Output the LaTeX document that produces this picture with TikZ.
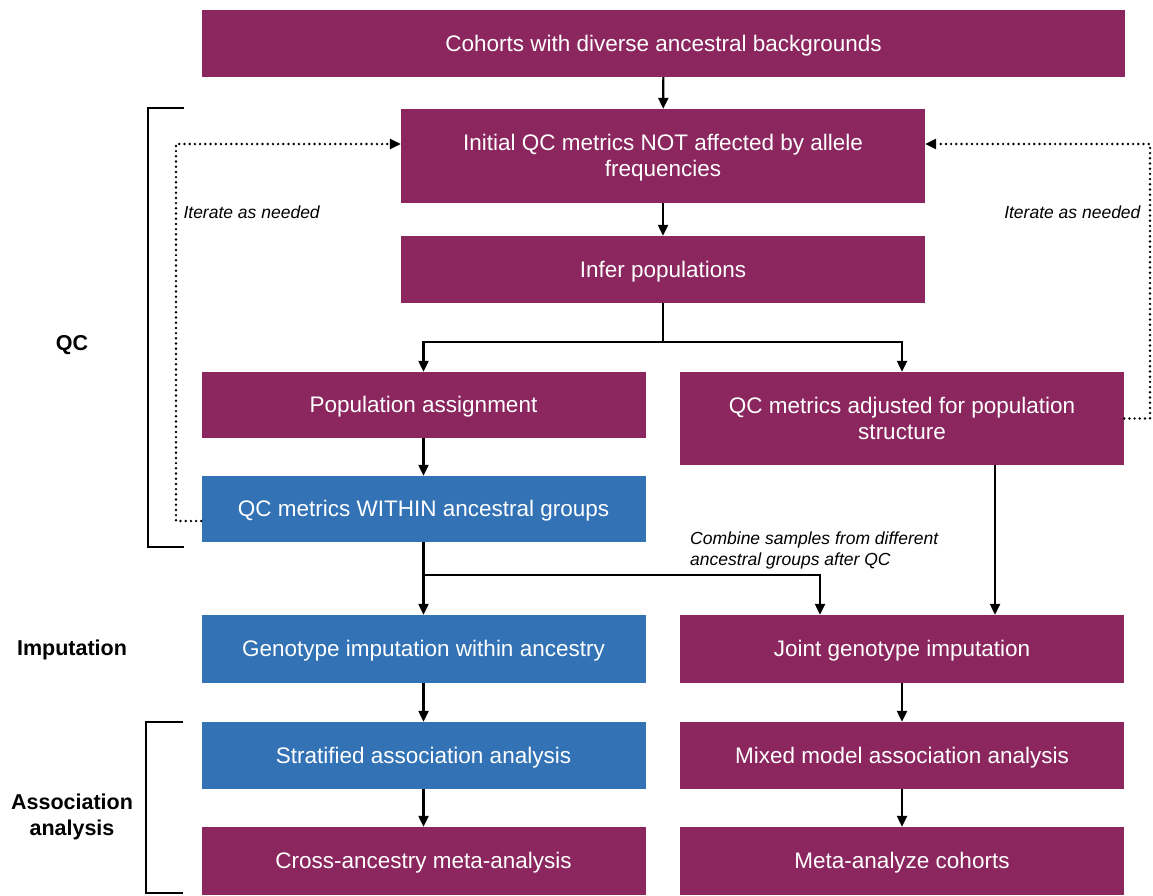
\documentclass[tikz,border=0pt]{standalone}
\usepackage{fontspec}
\setmainfont{Liberation Sans}
\usetikzlibrary{arrows.meta,calc}
\definecolor{pplbox}{RGB}{139,38,94}
\definecolor{blubox}{RGB}{50,114,181}
\begin{document}
\begin{tikzpicture}[x=1pt,y=-1pt,
  boxbase/.style={draw=none,inner sep=0pt,text=white,align=center,
    font=\fontsize{22.5}{26}\selectfont,text depth=1pt},
  pbox/.style={boxbase,fill=pplbox},
  bbox/.style={boxbase,fill=blubox},
  wide/.style={minimum width=923pt,minimum height=67pt},
  mid/.style={minimum width=524pt},
  col/.style={minimum width=444pt,minimum height=67pt},
  conn/.style={line width=2.2pt,-{Triangle[length=11pt,width=10pt]}},
  plain/.style={line width=2.2pt},
  loop/.style={line width=2.7pt,line cap=round,dash pattern=on 0pt off 5.2pt,-{Triangle[length=11pt,width=10pt]}},
  brack/.style={line width=2.2pt},
  side/.style={font=\fontsize{21.5}{26}\selectfont\bfseries,align=center},
  note/.style={font=\fontsize{17.5}{21}\selectfont\itshape,align=left}
]
\useasboundingbox (0,0) rectangle (1153,895);

\node[pbox,wide] (top) at (663.5,43.5) {Cohorts with diverse ancestral backgrounds};
\node[pbox,mid,minimum height=94pt] (initqc) at (663,156) {Initial QC metrics NOT affected by allele\\frequencies};
\node[pbox,mid,minimum height=67pt] (infer) at (663,269.5) {Infer populations};
\node[pbox,col,minimum height=66pt] (popa) at (423.5,405) {Population assignment};
\node[pbox,col,minimum height=93pt] (qcadj) at (902,418.5) {QC metrics adjusted for population\\structure};
\node[bbox,col,minimum height=66pt] (qcw) at (423.5,509) {QC metrics WITHIN ancestral groups};
\node[bbox,col,minimum height=68pt] (gimp) at (423.5,649) {Genotype imputation within ancestry};
\node[pbox,col,minimum height=68pt] (joint) at (902,649) {Joint genotype imputation};
\node[bbox,col] (strat) at (423.5,755.5) {Stratified association analysis};
\node[pbox,col] (mixed) at (902,755.5) {Mixed model association analysis};
\node[pbox,col,minimum height=68pt] (cross) at (423.5,861) {Cross-ancestry meta-analysis};
\node[pbox,col,minimum height=68pt] (meta) at (902,861) {Meta-analyze cohorts};

% connectors
\draw[conn] (top) -- (initqc);
\draw[conn] (initqc) -- (infer);
\coordinate (split) at (663,342);
\draw[plain] (infer.south) -- (split);
\draw[conn] (split) -| (popa.north);
\draw[conn] (split) -| (qcadj.north);
\draw[conn] (popa) -- (qcw);
\coordinate (merge) at (423.5,575);
\draw[plain] (qcw.south) -- (merge);
\draw[conn] (merge) -- (gimp.north);
\draw[conn] (merge) -| ([xshift=-82pt]joint.north);
\draw[conn] ([xshift=93pt]qcadj.south) -- ([xshift=93pt]joint.north);
\draw[conn] (gimp) -- (strat);
\draw[conn] (joint) -- (mixed);
\draw[conn] (strat) -- (cross);
\draw[conn] (mixed) -- (meta);

% iterate loops
\coordinate (lft) at (176,0);
\coordinate (rgt) at (1150,0);
\draw[loop] ([yshift=-12pt]qcw.west) -- ([yshift=-12pt]qcw.west -| lft) |- ([yshift=12pt]initqc.west);
\draw[loop] (qcadj.east) -- (qcadj.east -| rgt) |- ([yshift=12pt]initqc.east);
\node[note,anchor=west] (itl) at (180,212) {Iterate as needed};
\node[note,anchor=east] (itr) at (1144,212) {Iterate as needed};
\node[note,anchor=south west,inner sep=0pt] (comb) at (690,569) {Combine samples from different\\ancestral groups after QC};

% brackets
\draw[brack] (184,108) -- (148,108) -- (148,547) -- (184,547);
\draw[brack] (183,722) -- (146,722) -- (146,893) -- (183,893);

% side labels
\node[side] (lqc) at (72,345) {QC};
\node[side] (limp) at (72,650) {Imputation};
\node[side] (lass) at (72,817) {Association\\analysis};
\end{tikzpicture}
\end{document}
